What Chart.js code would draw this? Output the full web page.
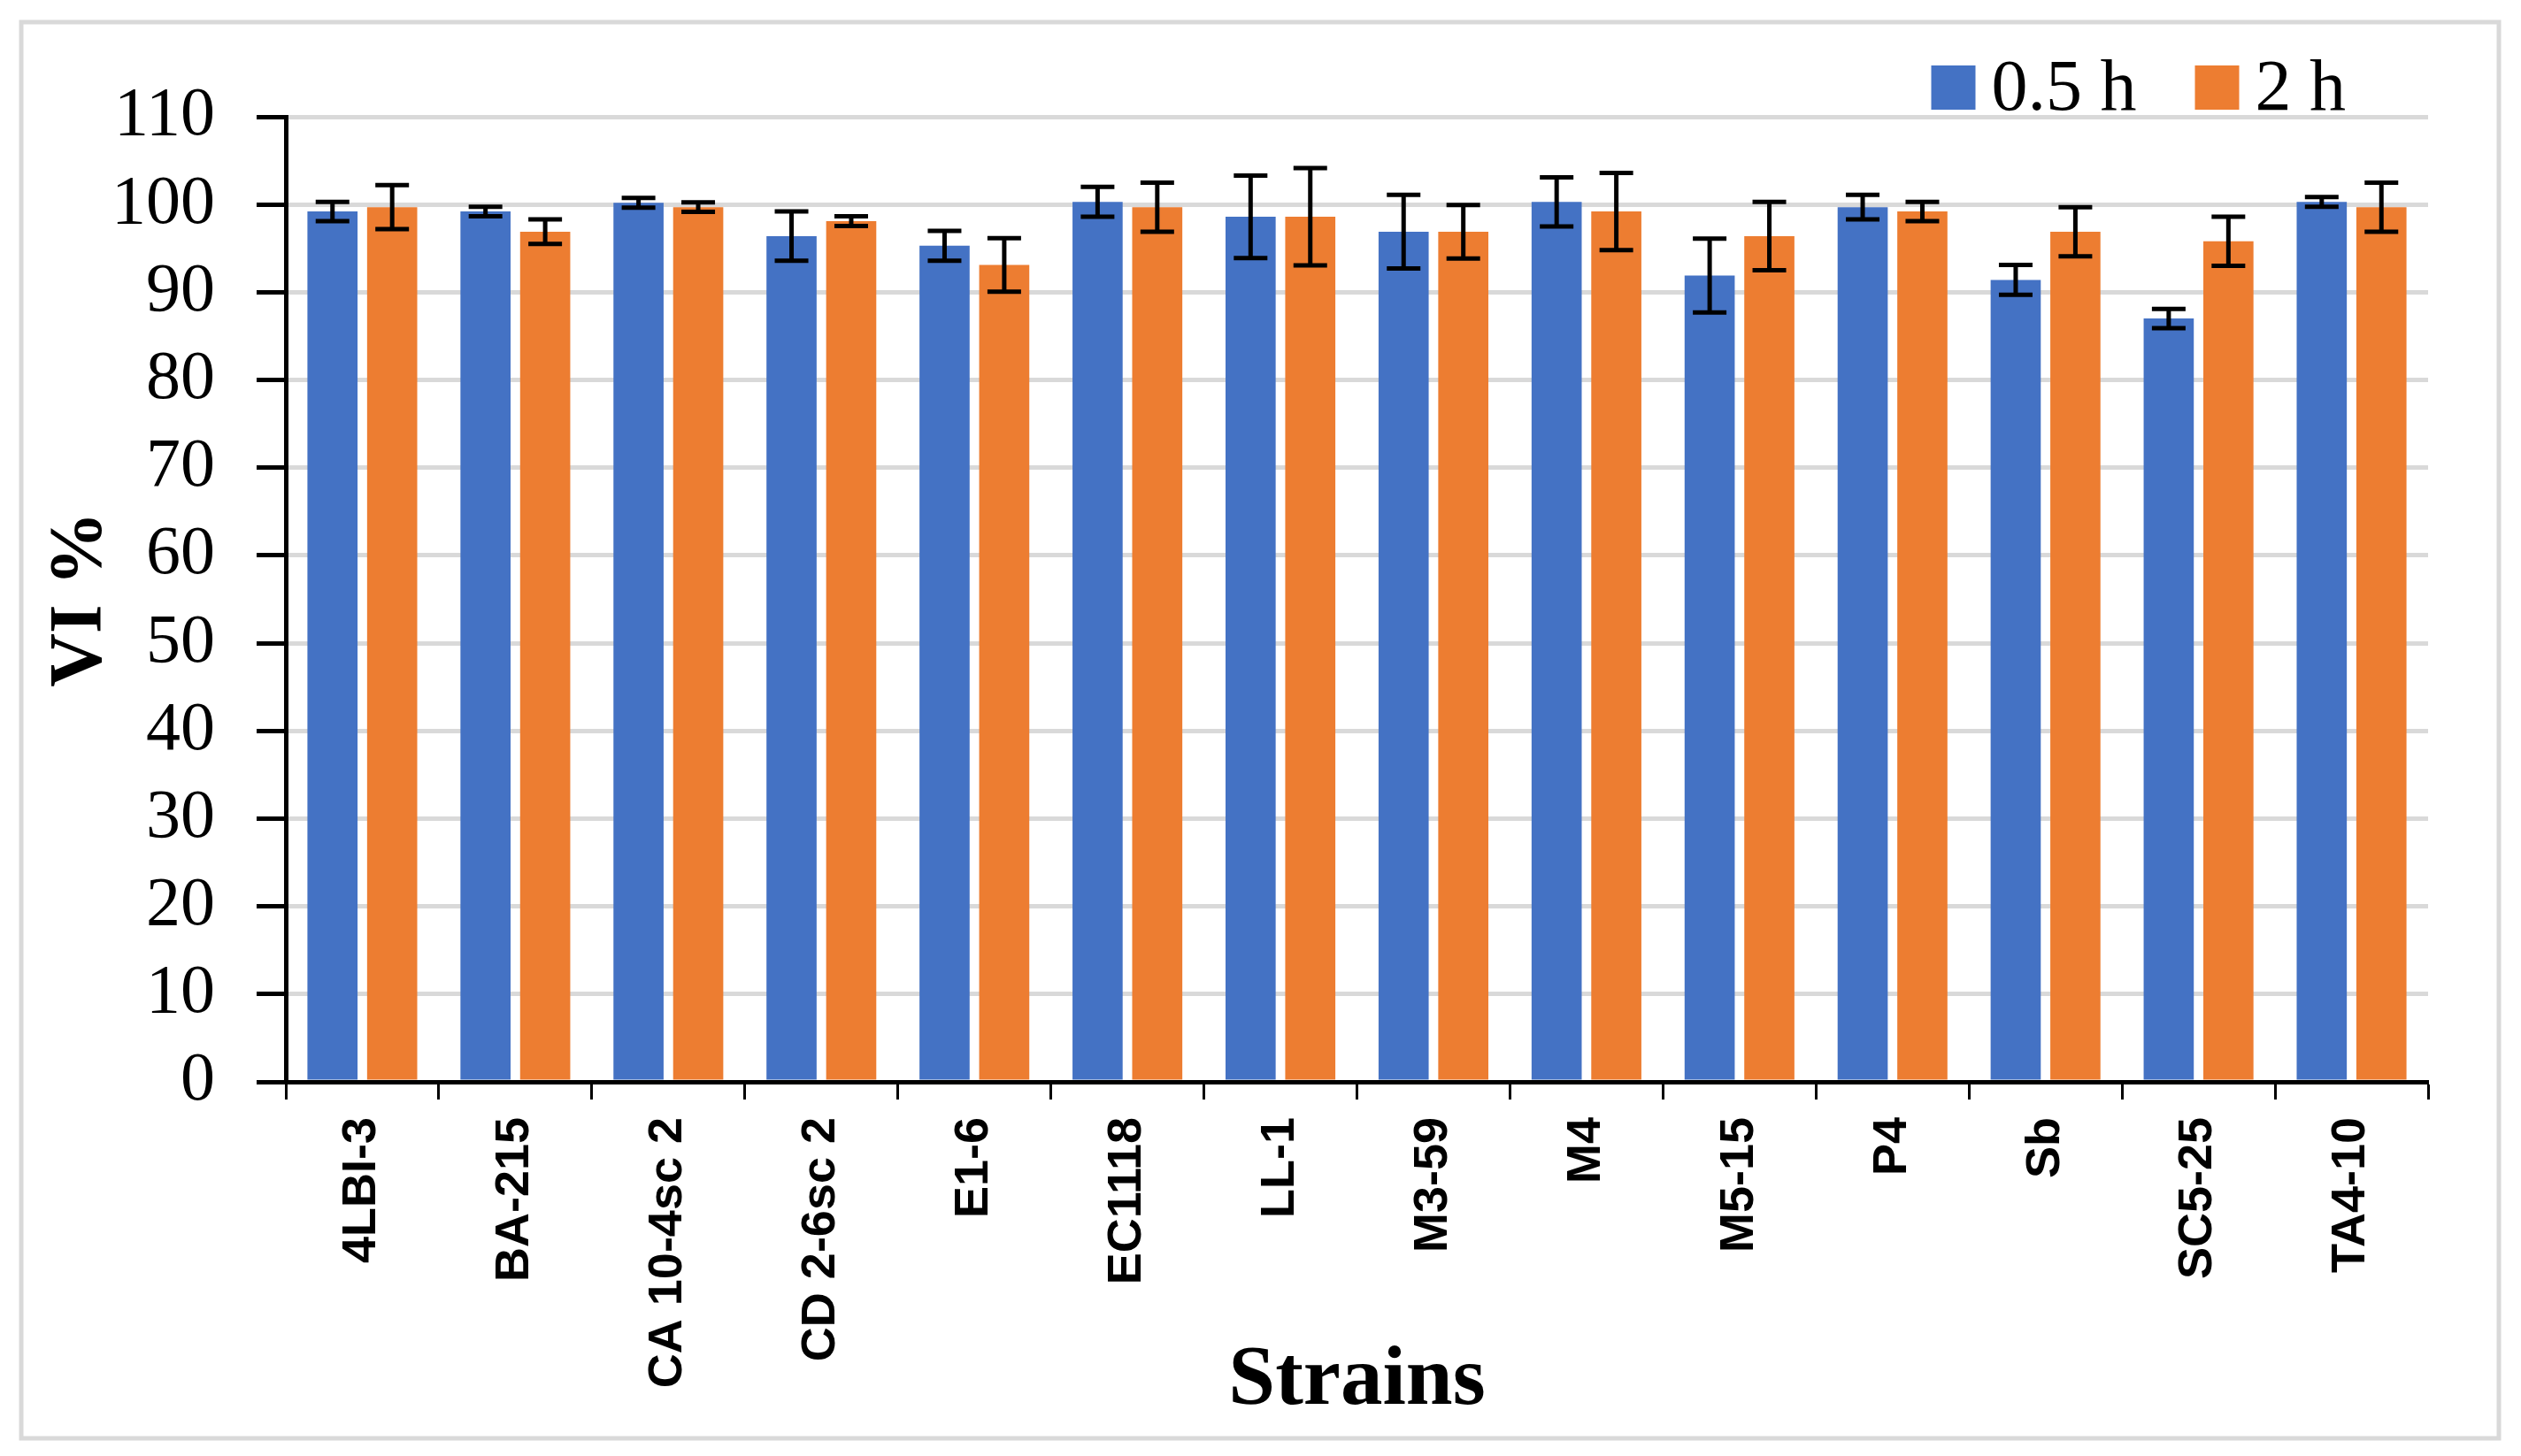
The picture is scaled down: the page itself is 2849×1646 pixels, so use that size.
<!DOCTYPE html>
<html>
<head>
<meta charset="utf-8">
<script src="https://cdn.jsdelivr.net/npm/chart.js@4"></script>
<style>
  html, body { margin: 0; padding: 0; background: #fff; }
  canvas { display: block; }
</style>
</head>
<body>
<canvas id="viChart" width="2849" height="1646" style="width:2849px;height:1646px"></canvas>
<script>
// strains on the x axis
var strains = ['4LBI-3', 'BA-215', 'CA 10-4sc 2', 'CD 2-6sc 2', 'E1-6', 'EC1118', 'LL-1',
               'M3-59', 'M4', 'M5-15', 'P4', 'Sb', 'SC5-25', 'TA4-10'];

// VI % after 0.5 h and its error
var vi05  = [99.2, 99.2, 100.2, 96.4, 95.3, 100.3, 98.6, 96.9, 100.3, 91.9, 99.7, 91.4, 87.0, 100.3];
var err05 = [1.1, 0.55, 0.55, 2.8, 1.7, 1.7, 4.7, 4.2, 2.8, 4.2, 1.4, 1.7, 1.1, 0.55];

// VI % after 2 h and its error
var vi2  = [99.7, 96.9, 99.7, 98.1, 93.1, 99.7, 98.6, 96.9, 99.2, 96.4, 99.2, 96.9, 95.8, 99.7];
var err2 = [2.5, 1.4, 0.55, 0.55, 3.05, 2.8, 5.55, 3.05, 4.4, 3.9, 1.1, 2.8, 2.8, 2.8];

var seriesNames = ['0.5 h', '2 h'];
var yTicks = [0, 110, 10]; // min, max, step

// error bars drawn from the y scale
var errorBars = {
    id: 'errorBars',
    afterDatasetsDraw: function(chart) {
        var ctx = chart.ctx;
        var y = chart.scales.y;
        ctx.save();
        ctx.strokeStyle = '#000';
        ctx.lineWidth = 5;
        chart.data.datasets.forEach(function(ds, di) {
            var meta = chart.getDatasetMeta(di);
            meta.data.forEach(function(bar, i) {
                var v = ds.data[i], e = ds.errors[i];
                var top = y.getPixelForValue(v + e);
                var bot = y.getPixelForValue(v - e);
                ctx.beginPath();
                ctx.moveTo(bar.x, top); ctx.lineTo(bar.x, bot);
                ctx.moveTo(bar.x - 19, top); ctx.lineTo(bar.x + 19, top);
                ctx.moveTo(bar.x - 19, bot); ctx.lineTo(bar.x + 19, bot);
                ctx.stroke();
            });
        });
        ctx.restore();
    }
};

// outer frame + legend at top right
var frameLegend = {
    id: 'frameLegend',
    beforeDraw: function(chart) {
        var ctx = chart.ctx;
        ctx.save();
        ctx.strokeStyle = '#d9d9d9';
        ctx.lineWidth = 5;
        ctx.strokeRect(24, 25, 2800, 1601);
        ctx.restore();
    },
    afterDraw: function(chart) {
        var ctx = chart.ctx;
        ctx.save();
        ctx.font = '82px "Liberation Serif"';
        ctx.textBaseline = 'alphabetic';
        var x = chart.chartArea.right - 93;
        var base = 124;
        var items = chart.data.datasets.slice().reverse();
        items.forEach(function(ds) {
            var w = ctx.measureText(ds.label).width;
            x -= w;
            ctx.fillStyle = '#000';
            ctx.fillText(ds.label, x, base);
            x -= 18 + 50;
            ctx.fillStyle = ds.backgroundColor;
            ctx.fillRect(x, base - 50, 50, 50);
            x -= 66;
        });
        ctx.restore();
    }
};

var ctx = document.getElementById('viChart').getContext('2d');
var myChart = new Chart(ctx, {
    type: 'bar',
    data: {
        labels: strains,
        datasets: [{
            label: seriesNames[0],
            data: vi05,
            errors: err05,
            backgroundColor: '#4472C4',
            barPercentage: 0.84,
            categoryPercentage: 0.78
        }, {
            label: seriesNames[1],
            data: vi2,
            errors: err2,
            backgroundColor: '#ED7D31',
            barPercentage: 0.84,
            categoryPercentage: 0.78
        }]
    },
    options: {
        responsive: false,
        animation: false,
        devicePixelRatio: 1,
        layout: { padding: { left: 20, right: 105, top: 132, bottom: 25 } },
        plugins: {
            legend: { display: false },
            tooltip: { enabled: false }
        },
        scales: {
            x: {
                afterFit: function(scale) { scale.height = 398; },
                border: { color: '#000', width: 5 },
                grid: {
                    offset: true,
                    drawOnChartArea: false,
                    drawTicks: true,
                    tickLength: 20,
                    tickWidth: 3,
                    tickColor: '#000'
                },
                ticks: {
                    minRotation: 90,
                    maxRotation: 90,
                    padding: 20,
                    color: '#000',
                    font: { family: '"Liberation Sans"', size: 54, weight: 'bold' }
                },
                title: {
                    display: true,
                    text: 'Strains',
                    color: '#000',
                    padding: { top: 0, bottom: 2 },
                    font: { family: '"Liberation Serif"', size: 95, weight: 'bold' }
                }
            },
            y: {
                min: yTicks[0],
                max: yTicks[1],
                afterFit: function(scale) { scale.width = 303; },
                border: { color: '#000', width: 5 },
                grid: {
                    color: '#d9d9d9',
                    lineWidth: 5,
                    tickLength: 33,
                    tickWidth: 5,
                    tickColor: '#000'
                },
                ticks: {
                    stepSize: yTicks[2],
                    padding: 47,
                    color: '#000',
                    font: { family: '"Liberation Serif"', size: 78 }
                },
                title: {
                    display: true,
                    text: 'VI %',
                    color: '#000',
                    padding: { top: 22, bottom: 0 },
                    font: { family: '"Liberation Serif"', size: 84, weight: 'bold' }
                }
            }
        }
    },
    plugins: [errorBars, frameLegend]
});
</script>
</body>
</html>
